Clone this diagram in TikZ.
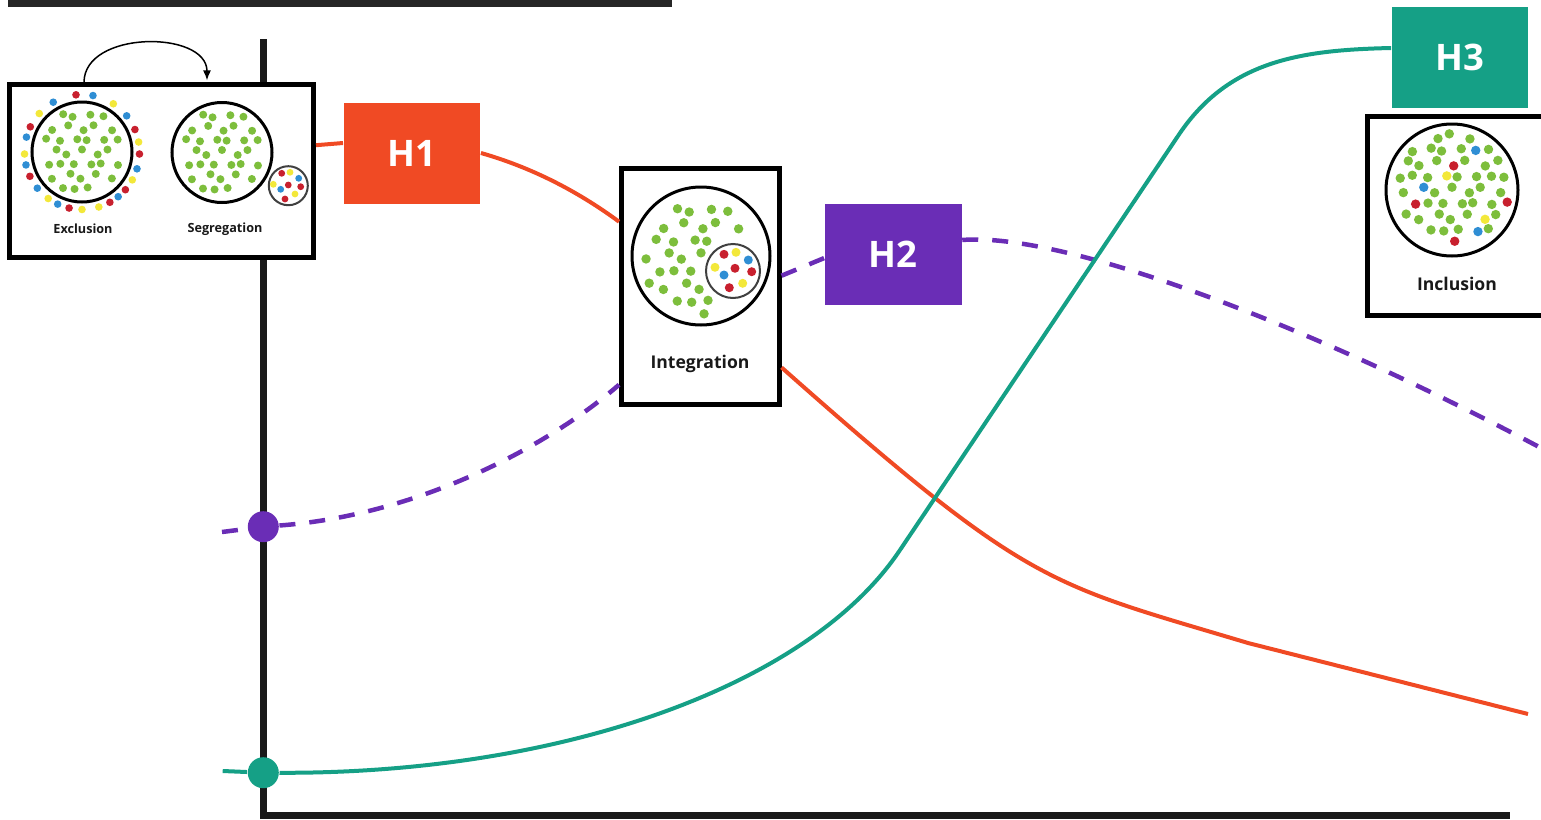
\documentclass[tikz,border=0pt]{standalone}
\usepackage{fontspec}
\setmainfont{Open Sans}
\usetikzlibrary{arrows.meta}

\definecolor{hred}{HTML}{F04A24}
\definecolor{hpurple}{HTML}{6A2DB6}
\definecolor{hteal}{HTML}{15A086}
\definecolor{dotgreen}{HTML}{7DBE3C}
\definecolor{dotred}{HTML}{C8202E}
\definecolor{dotblue}{HTML}{2F8ED4}
\definecolor{dotyellow}{HTML}{F3E83A}

% crowd of dots: centre x, centre y, radius, step, hole dx, hole dy, hole radius, mix (0 = all green)
\newcommand{\crowd}[8]{%
  \foreach \i in {-5,...,5}{%
    \foreach \j in {-5,...,5}{%
      \pgfmathsetmacro\dx{(\i+0.5*mod(\j+10,2))*#4+0.18*#4*sin(137*\i+251*\j)}%
      \pgfmathsetmacro\dy{0.866*\j*#4+0.18*#4*cos(173*\i+97*\j)}%
      \pgfmathtruncatemacro\inside{and(\dx*\dx+\dy*\dy<#3*#3, (\dx-#5)^2+(\dy-#6)^2>#7*#7)}%
      \ifnum\inside=1
        \def\dc{dotgreen}%
        \ifnum#8>0
          \pgfmathtruncatemacro\pick{mod(5*\i+7*\j+100,#8)}%
          \ifnum\pick=0
            \pgfmathtruncatemacro\hue{mod(\i+60,3)}%
            \ifcase\hue \def\dc{dotred}\or \def\dc{dotblue}\or \def\dc{dotyellow}\fi
          \fi
        \fi
        \fill[fill=\dc] (#1+\dx,#2+\dy) circle (\dotr);
      \fi
    }}}

\begin{document}
\begin{tikzpicture}[
  x=1mm, y=1mm,
  panel/.style={draw=black, line width=0.5mm, fill=white, rectangle, inner sep=0pt},
  hbox/.style={rectangle, inner sep=0pt, minimum width=13.65mm, minimum height=10.1mm, text=white, font=\bfseries\fontsize{10.4}{12}\selectfont},
  lbl/.style={inner sep=0pt, text=black!90, font=\bfseries\fontsize{5}{6}\selectfont},
  smalllbl/.style={lbl, font=\bfseries\fontsize{3.6}{4}\selectfont},
  ring/.style={draw=black, line width=0.3mm},
  thinring/.style={draw=black!75, line width=0.2mm},
  curve/.style={line width=0.4mm},
  dashline/.style={line width=0.45mm, hpurple, dash pattern=on 1.6mm off 1.4mm},
  knot/.style={circle, inner sep=0pt, minimum size=3.1mm}
]
\path[use as bounding box, clip] (0,0) rectangle (154.1,81.9);

% axes and top bar
\draw[line width=0.7mm, line join=miter, black!90] (26.3,78) |- (151,0.35);
\fill[black!85] (0.8,81.2) rectangle (67.2,82);

% panels
\node[panel, minimum width=30.4mm, minimum height=17.25mm] (seg) at (16.15,64.78) {};
\node[panel, minimum width=15.75mm, minimum height=23.65mm] (integ) at (70.03,53.23) {};
\node[panel, minimum width=19.5mm, minimum height=19.9mm] (incl) at (146.5,60.28) {};

% exclusion and segregation
\draw[ring] (8.2,66.7) circle (5.0);
\draw[ring] (22.2,66.65) circle (5.0);
\draw[thinring] (28.83,63.33) circle (1.95);
\def\dotr{0.4}
\crowd{8.2}{66.7}{4.3}{1.4}{0}{0}{0}{0}
\crowd{22.2}{66.65}{4.3}{1.4}{0}{0}{0}{0}
\foreach \a/\c in {96/dotred, 79/dotblue, 120/dotblue, 57/dotyellow, 138/dotyellow,
    39/dotblue, 154/dotred, 23/dotred, 165/dotblue, 10/dotyellow, -2/dotred,
    182/dotyellow, 193/dotblue, -17/dotblue, 205/dotred, -29/dotyellow, 219/dotblue,
    -41/dotred, 234/dotyellow, -51/dotblue, -61/dotred, 245/dotblue, 257/dotred,
    270/dotyellow, 287/dotyellow}
  \fill[fill=\c, shift={(8.2,66.7)}] (\a:5.75) circle (0.38);
\foreach \p/\c in {{28.17,64.57}/dotred, {29.0,64.67}/dotyellow, {29.87,64.07}/dotblue,
    {27.33,63.47}/dotyellow, {28.83,63.4}/dotred, {30.07,63.23}/dotred,
    {28.07,62.97}/dotblue, {29.5,62.5}/dotyellow, {28.5,62.0}/dotred}
  \fill[fill=\c] (\p) circle (0.34);
\node[smalllbl] (exclLbl) at (8.3,59.0) {Exclusion};
\node[smalllbl] (segLbl) at (22.5,59.0) {Segregation};
\draw[line width=0.15mm, -{Latex[length=1mm, width=0.8mm]}] ([xshift=7.7mm]seg.north west) .. controls (8.4,78.9) and (20.7,78.9) .. ([xshift=20mm, yshift=0.2mm]seg.north west);

% integration
\draw[ring] (70.1,56.3) circle (6.9);
\draw[thinring] (73.3,54.8) circle (2.7);
\def\dotr{0.47}
\crowd{70.1}{56.3}{5.9}{1.75}{3.2}{-1.5}{3.5}{0}
\foreach \p/\c in {{72.4,56.47}/dotred, {73.6,56.67}/dotyellow, {74.83,55.9}/dotblue,
    {71.5,55.17}/dotyellow, {73.5,55.07}/dotred, {75.17,54.73}/dotred,
    {72.4,54.4}/dotblue, {74.27,53.57}/dotyellow, {72.93,53.13}/dotred}
  \fill[fill=\c] (\p) circle (0.45);
\node[lbl] (integLbl) at (70.0,45.5) {Integration};

% inclusion
\draw[ring] (145.2,62.9) circle (6.6);
\crowd{145.2}{62.9}{5.7}{1.55}{0}{0}{0}{6}
\node[lbl] (inclLbl) at (145.7,53.5) {Inclusion};

% hypotheses
\node[hbox, fill=hred] (h1) at (41.2,66.6) {H1};
\node[hbox, fill=hpurple] (h2) at (89.33,56.45) {H2};
\node[hbox, fill=hteal] (h3) at (146.0,76.2) {H3};

% starting points on the axis
\node[knot, fill=hpurple] (pdot) at (26.33,29.23) {};
\node[knot, fill=hteal] (tdot) at (26.33,4.63) {};
\coordinate (pin) at (22.2,28.7);
\coordinate (tin) at (22.27,4.8);
\coordinate (pend) at (154.1,37.1);
\coordinate (rend) at (152.8,10.5);

% H1 path
\draw[curve, hred] ([yshift=2.6mm]seg.east) -- ([yshift=1mm]h1.west);
\draw[curve, hred] (h1.east) .. controls (53.0,65.2) and (57.6,62.9) .. ([yshift=6.5mm]integ.west);
\draw[curve, hred] ([yshift=4mm]integ.south east) .. controls (103.1,23.05) and (104.8,23.6) .. (124.8,17.6) -- (rend);

% H2 path
\draw[dashline] (pin) -- (pdot);
\draw[dashline] (pdot) .. controls (42.0,30.4) and (55.0,37.4) .. ([yshift=-9.8mm]integ.west);
\draw[dashline] ([yshift=1.1mm]integ.east) -- ([yshift=-0.35mm]h2.west);
\draw[dashline] ([yshift=1.45mm]h2.east) .. controls (106.0,58.7) and (130.0,49.9) .. (pend);

% H3 path
\draw[curve, hteal] (tin) -- (tdot);
\draw[curve, hteal] (tdot) .. controls (56.3,4.5) and (81.0,13.4) .. (90.0,26.9) -- (118.0,68.6) .. controls (123.0,75.9) and (130.2,76.9) .. ([yshift=0.9mm]h3.west);

\end{tikzpicture}
\end{document}
